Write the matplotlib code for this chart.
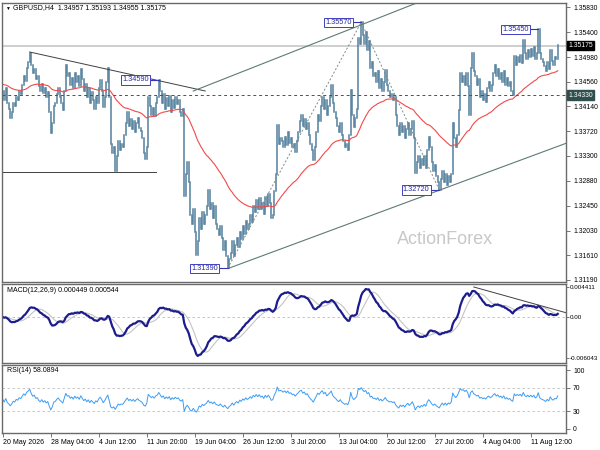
import numpy as np
import matplotlib.pyplot as plt
import matplotlib.transforms as mtransforms

plt.rcParams['font.family'] = ['Liberation Sans', 'DejaVu Sans']

symbol = "GBPUSD,H4"
last_ohlc = ["1.34957", "1.35193", "1.34955", "1.35175"]

# H4 closes, in pips above 1.3000
close_pips = [
    440, 425, 445, 420, 410, 395, 405, 420, 415, 430,
    425, 440, 435, 450, 465, 458, 480, 490, 505, 485,
    470, 478, 460, 465, 448, 440, 452, 436, 445, 430,
    438, 405, 368, 385, 415, 420, 435, 445, 430, 420,
    408, 440, 484, 465, 470, 450, 462, 445, 470, 455,
    465, 448, 478, 460, 440, 452, 430, 445, 420, 438,
    425, 410, 430, 420, 445, 459, 440, 413, 430, 455,
    480, 430, 350, 335, 345, 305, 330, 355, 340, 350,
    345, 365, 385, 405, 380, 392, 375, 390, 370, 385,
    395, 378, 372, 360, 335, 325, 345, 430, 415, 400,
    412, 398, 420, 430, 459, 440, 420, 435, 410, 428,
    415, 432, 405, 425, 412, 430, 418, 425, 405, 398,
    410, 262, 300, 320, 285, 230, 215, 240, 200, 162,
    185, 225, 205, 235, 215, 230, 245, 272, 240, 250,
    225, 245, 215, 205, 195, 210, 190, 170, 185, 160,
    139, 155, 165, 185, 160, 178, 190, 175, 200, 188,
    210, 198, 220, 205, 215, 230, 218, 245, 235, 255,
    240, 258, 240, 250, 232, 260, 245, 265, 250, 225,
    230, 270, 300, 382, 350, 360, 355, 345, 362, 348,
    370, 352, 360, 345, 350, 336, 355, 370, 390, 399,
    380, 392, 375, 385, 365, 350, 340, 323, 345, 370,
    399, 390, 415, 430, 410, 425, 400, 415, 430, 450,
    420, 405, 395, 380, 370, 385, 365, 355, 345, 350,
    340, 365, 442, 400, 379, 395, 410, 530, 520, 557,
    535, 520, 540, 510, 525, 480, 490, 465, 470, 455,
    475, 445, 460, 440, 455, 476, 450, 440, 430, 435,
    425, 430, 400, 380, 365, 385, 370, 380, 360, 375,
    385, 365, 375, 390, 360, 301, 320, 330, 310, 325,
    315, 330, 310, 340, 362, 345, 320, 305, 315, 295,
    285, 272, 290, 305, 285, 300, 280, 295, 285, 300,
    386, 360, 345, 365, 408, 471, 455, 465, 450, 470,
    448, 400, 480, 505, 475, 465, 450, 460, 430, 440,
    425, 435, 422, 445, 455, 440, 450, 470, 484, 465,
    478, 460, 470, 455, 475, 450, 462, 448, 455, 440,
    433, 500, 485, 498, 490, 502, 488, 527, 505, 495,
    510, 498, 512, 500, 515, 495, 505, 545, 505, 495,
    490, 482, 475, 490, 478, 510, 492, 485, 498, 495,
    518,
]
ma_seed = 1.3452          # EMA value at the left edge

date_ticks = [0, 32, 64, 96, 128, 160, 192, 224, 256, 288, 320, 352]
date_labels = ['20 May 2026', '28 May 04:00', '4 Jun 12:00', '11 Jun 20:00',
               '19 Jun 04:00', '26 Jun 12:00', '3 Jul 20:00', '13 Jul 04:00',
               '20 Jul 12:00', '27 Jul 20:00', '4 Aug 04:00', '11 Aug 12:00']

price_ticks = [1.35830, 1.35400, 1.34980, 1.34560, 1.34140, 1.33720,
               1.33300, 1.32880, 1.32450, 1.32030, 1.31610, 1.31190]

current_price = 1.35175
level_price = 1.34330

# swing labels: (bar, price)
swings = [(104, 1.34590), (150, 1.31390), (239, 1.35570), (291, 1.32720), (357, 1.35450)]

# drawn lines: ((bar, price), (bar, price))
down_line = ((18, 1.35065), (135, 1.34402))
upper_channel = ((127, 1.34402), (281, 1.35949))
lower_channel = ((151, 1.31393), (376, 1.33518))
support_line = ((0, 1.33025), (102, 1.33025))
zigzag = [(150, 1.3139), (239, 1.3557), (291, 1.3272)]
macd_line = ((314, 0.004411), (376, 0.00059))

macd_text = "MACD(12,26,9) 0.000449 0.000544"
rsi_text = "RSI(14) 58.0894"

# ---- series
closes = 1.3 + np.array(close_pips) / 10000.0
opens = np.r_[closes[0], closes[:-1]]
idx = np.arange(len(closes))


def ema(x, n, seed):
    a = 2.0 / (n + 1)
    out, v = [], seed
    for val in x:
        v = v + a * (val - v)
        out.append(v)
    return np.array(out)


ma55 = ema(closes, 55, ma_seed)
macd = ema(closes, 12, closes[0]) - ema(closes, 26, closes[0])
signal = np.array([macd[max(0, i - 8):i + 1].mean() for i in range(len(macd))])

diff = np.diff(closes, prepend=closes[0])
gain = np.clip(diff, 0, None)
loss = np.clip(-diff, 0, None)
start = np.abs(diff[1:15]).mean() / 2
ag, al = start, start
rsi = []
for g, l in zip(gain, loss):
    ag = (ag * 13 + g) / 14
    al = (al * 13 + l) / 14
    rsi.append(100 - 100 / (1 + ag / al))
rsi = np.array(rsi)

# ---- figure
fig = plt.figure(figsize=(6, 4.5), dpi=100)
W, H = 600, 450
ax = fig.add_axes([2 / W, 1 - 282 / H, 564 / W, 279 / H])
axm = fig.add_axes([2 / W, 1 - 363 / H, 564 / W, 79 / H])
axr = fig.add_axes([2 / W, 1 - 433 / H, 564 / W, 68 / H])

xmax = 375.5
for a in (ax, axm, axr):
    a.set_xlim(-0.5, xmax)
    a.yaxis.tick_right()
    a.tick_params(axis='y', labelsize=4.9, length=3, pad=2, width=0.6, color='#606060')
    for s in a.spines.values():
        s.set_color('#6a6a6a')
        s.set_linewidth(1.0)
ax.set_xticks([])
axm.set_xticks([])

bar_col = '#53809d'
ax.vlines(idx, np.minimum(opens, closes), np.maximum(opens, closes),
          color=bar_col, lw=1.1, capstyle='projecting')
ax.plot(idx, ma55, color='#f24a4a', lw=0.8)

ax.axhline(current_price, color='#cfcfcf', lw=1.4, zorder=0)
ax.axhline(level_price, color='#505050', lw=0.7, ls=(0, (3, 3)))

tl = dict(color='#404040', lw=0.7)
for (x0, y0), (x1, y1) in (down_line, support_line):
    ax.plot([x0, x1], [y0, y1], **tl)
for (x0, y0), (x1, y1) in (upper_channel, lower_channel):
    ax.plot([x0, x1], [y0, y1], color='#5e7a78', lw=0.8)
zx, zy = zip(*zigzag)
ax.plot(zx, zy, color='#7a8a8a', lw=0.7, ls=(0, (2, 2)))

for b, p in swings:
    ax.plot([b - 6, b], [p, p], color='#3535b0', lw=0.8)
    ax.text(b - 6.5, p, f'{p:.5f}', fontsize=5.3, color='#2a2a9a', ha='right', va='center',
            bbox=dict(boxstyle='square,pad=0.15', fc='white', ec='#4040c0', lw=0.7))

ax.set_ylim(1.31156, 1.35898)
ax.set_yticks(price_ticks)
ax.set_yticklabels([f'{t:.5f}' for t in price_ticks])

trans = mtransforms.blended_transform_factory(ax.transAxes, ax.transData)
ax.text(1.004, current_price, f'{current_price:.5f}', transform=trans, fontsize=4.9, color='white',
        va='center', ha='left', bbox=dict(boxstyle='square,pad=0.2', fc='black', ec='black'))
ax.text(1.004, level_price, f'{level_price:.5f}', transform=trans, fontsize=4.9, color='white',
        va='center', ha='left', bbox=dict(boxstyle='square,pad=0.2', fc='#2f4f4f', ec='#2f4f4f'))

ax.text(0.785, 0.154, 'ActionForex', transform=ax.transAxes, fontsize=13, color='#c8c8c8',
        ha='center', va='center')

fig.text(5 / W, 1 - 8 / H, '\u25bc', fontsize=3.5, va='center')
fig.text(13 / W, 1 - 8 / H, symbol + '  ' + ' '.join(last_ohlc), fontsize=5, va='center')

# MACD
axm.axhline(0, color='#bdbdbd', lw=0.6, ls=(0, (3, 3)))
axm.plot(idx, signal, color='#c4c4c4', lw=0.8)
axm.plot(idx, macd, color='#1c1c8c', lw=1.6)
(mx0, my0), (mx1, my1) = macd_line
axm.plot([mx0, mx1], [my0, my1], color='#404040', lw=0.7)
axm.set_ylim(-0.00678, 0.00485)
axm.set_yticks([0.004411, 0.0, -0.006043])
axm.set_yticklabels(['0.004411', '0.00', '-0.006043'])
axm.tick_params(axis='y', labelsize=4.5, length=2, pad=1)
axm.text(5 / 564, 1 - 7 / 79, macd_text, transform=axm.transAxes, fontsize=5, va='center')

# RSI
for lvl in (70, 30):
    axr.axhline(lvl, color='#c0c0c0', lw=0.6, ls=(0, (3, 3)))
axr.plot(idx, rsi, color='#3d9cf5', lw=0.7)
axr.set_ylim(-6.8, 108.5)
axr.set_yticks([100, 70, 30, 0])
axr.text(5 / 564, 1 - 6 / 68, rsi_text, transform=axr.transAxes, fontsize=5, va='center')

axr.set_xticks(date_ticks)
axr.set_xticklabels(date_labels, ha='left')
axr.tick_params(axis='x', labelsize=5, length=3, pad=1.5, width=0.6, color='#606060')

fig.savefig('out.png', dpi=100)
